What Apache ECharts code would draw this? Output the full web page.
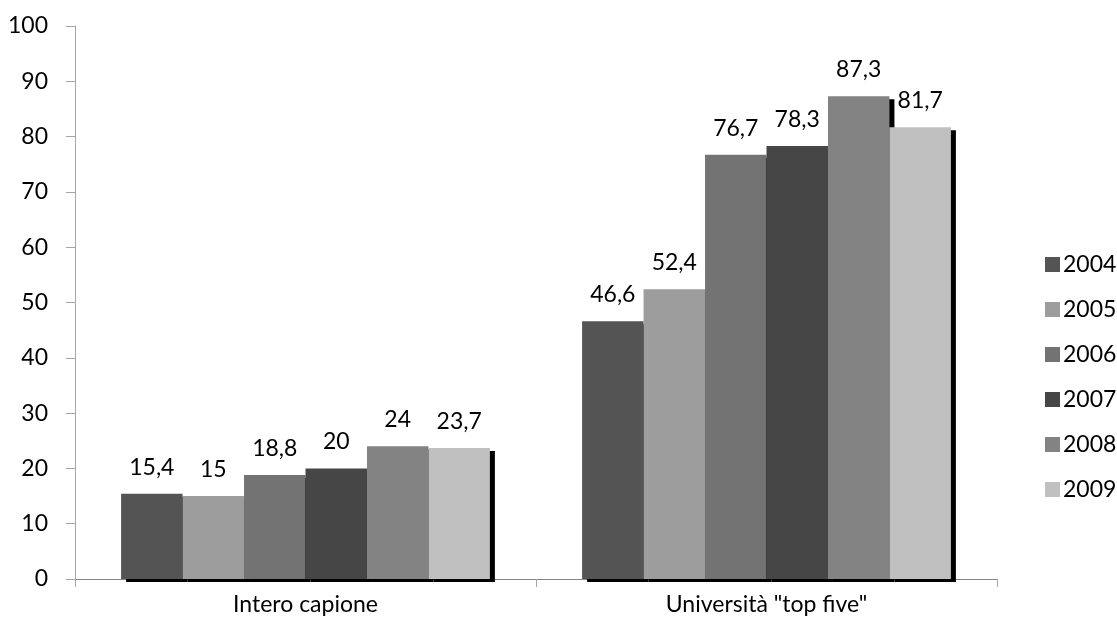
<!DOCTYPE html>
<html>
<head>
<meta charset="utf-8">
<script src="https://cdn.jsdelivr.net/npm/echarts@6/dist/echarts.min.js"></script>
<style>
  html, body { margin: 0; padding: 0; background: #fff; }
  #chart { width: 1117px; height: 626px; }
</style>
</head>
<body>
<div id="chart"></div>
<script>
// Categories and yearly values
const categories = ['Intero capione', 'Università "top five"'];
const years = ['2004', '2005', '2006', '2007', '2008', '2009'];
const values2004 = [15.4, 46.6];
const values2005 = [15, 52.4];
const values2006 = [18.8, 76.7];
const values2007 = [20, 78.3];
const values2008 = [24, 87.3];
const values2009 = [23.7, 81.7];
const yearValues = [values2004, values2005, values2006, values2007, values2008, values2009];
const yearColors = ['#545454', '#9d9d9d', '#737373', '#464646', '#838383', '#c0c0c0'];

const FONT = 'Lato';
const FONT_SIZE = 23;

const chart = echarts.init(document.getElementById('chart'));

// Each year is one bar series; the hard black drop shadow sits down-right of every bar
const series = years.map((y, i) => ({
  name: y,
  type: 'bar',
  data: yearValues[i],
  barGap: '0%',
  barCategoryGap: '20%',
  itemStyle: {
    color: yearColors[i],
    shadowColor: '#000000',
    shadowBlur: 0,
    shadowOffsetX: 5,
    shadowOffsetY: 3
  },
  label: {
    show: true,
    position: 'top',
    distance: 15,
    color: '#000',
    fontFamily: FONT,
    fontSize: FONT_SIZE,
    formatter: p => String(p.value).replace('.', ',')
  },
  emphasis: { disabled: true }
}));

chart.setOption({
  animation: false,
  backgroundColor: '#ffffff',
  grid: { left: 75, right: 120, top: 26, bottom: 47, containLabel: false },
  legend: {
    orient: 'vertical',
    left: 1040,
    top: 248,
    itemWidth: 15,
    itemHeight: 15,
    itemGap: 22,
    icon: 'rect',
    textStyle: { fontFamily: FONT, fontSize: FONT_SIZE, color: '#000', lineHeight: 23, padding: [0, 0, 0, -2] },
    data: years
  },
  xAxis: {
    type: 'category',
    data: categories,
    axisLine: { lineStyle: { color: '#868686', width: 1 } },
    axisTick: { show: true, length: 8, lineStyle: { color: '#a6a6a6' } },
    axisLabel: { fontFamily: FONT, fontSize: FONT_SIZE, color: '#000', margin: 14 }
  },
  yAxis: {
    type: 'value',
    min: 0,
    max: 100,
    interval: 10,
    splitLine: { show: false },
    axisLine: { show: true, lineStyle: { color: '#a6a6a6', width: 1 } },
    axisTick: { show: true, length: 9, lineStyle: { color: '#a6a6a6' } },
    axisLabel: { fontFamily: FONT, fontSize: FONT_SIZE, color: '#000', margin: 27 }
  },
  series: series
});
</script>
</body>
</html>
